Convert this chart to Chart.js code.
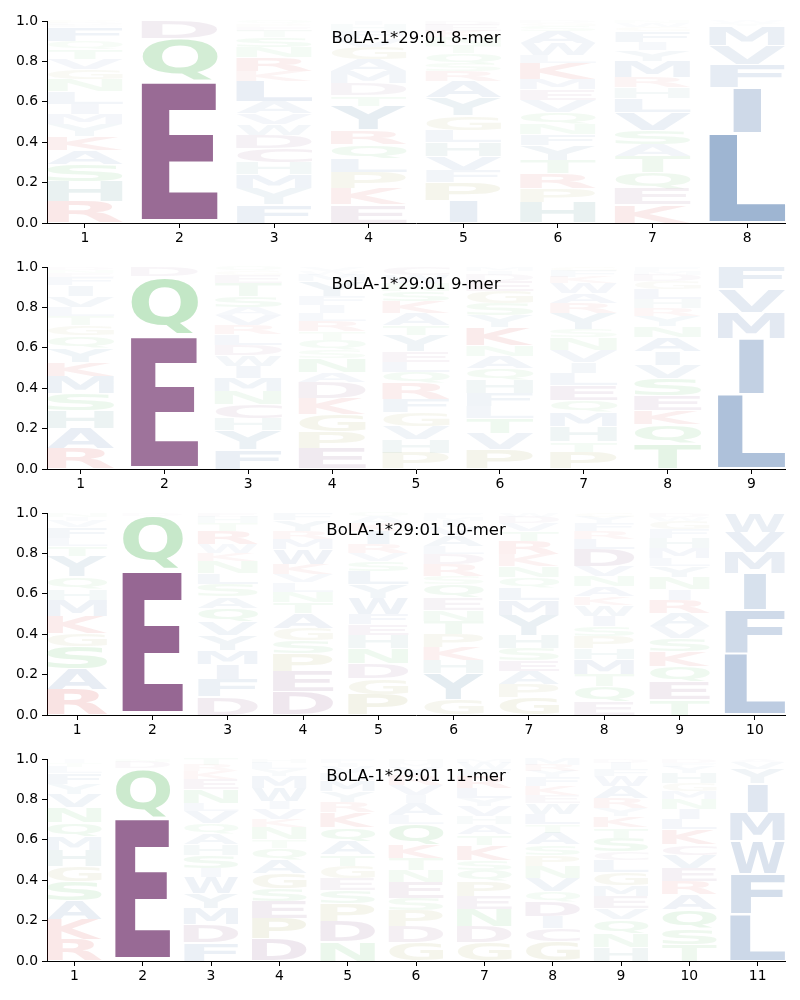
<!DOCTYPE html>
<html>
<head>
<meta charset="utf-8">
<script src="https://cdn.jsdelivr.net/npm/chart.js@4.4.1/dist/chart.umd.min.js"></script>
<style>
  body { margin: 0; background: #fff; }
  canvas { display: block; }
</style>
</head>
<body>
<canvas id="logo8" width="800" height="246"></canvas>
<canvas id="logo9" width="800" height="246"></canvas>
<canvas id="logo10" width="800" height="246"></canvas>
<canvas id="logo11" width="800" height="246"></canvas>
<script>
// Motif logos, one panel per peptide length
const allele = "BoLA-1*29:01";
const yTicks = [0, 0.2, 0.4, 0.6, 0.8, 1.0];

// letters of each position, stacked bottom -> top, with their frequencies
const letters8 = ["RHSAKYMILNGVTQFEDP", "EQD", "FYMHCDWVALKRNSTEPQ", "EKPLQRYTDMAGVFHI",
  "IPFVHLGYARSQTNKED", "HPRTYFNQVEMKLWASGD", "KEQTASVLHRMYIFGWN", "LIFVMYW"];
const heights8 = [
  [.105, .10, .085, .07, .07, .06, .05, .05, .06, .06, .05, .05, .05, .04, .07, .01, .01, .01],
  [.705, .21, .085],
  [.09, .08, .07, .06, .07, .065, .055, .05, .06, .10, .05, .07, .05, .05, .03, .02, .015, .015],
  [.09, .08, .08, .07, .07, .07, .12, .05, .06, .06, .06, .06, .04, .04, .03, .02],
  [.11, .09, .06, .07, .07, .06, .07, .09, .08, .05, .04, .05, .04, .04, .03, .03, .02],
  [.10, .07, .075, .065, .075, .055, .05, .06, .06, .05, .05, .08, .04, .06, .06, .025, .015, .01],
  [.09, .08, .08, .08, .06, .07, .09, .07, .05, .05, .08, .055, .04, .055, .02, .02, .01],
  [.445, .225, .115, .095, .095, .015, .01]
];

const letters9 = ["RAHSMKYQGTLVIFEND", "EQD", "FYHCNMIWDLRVASTEGQ", "EPGKDANSQTRLIFYMWV",
  "PHVGFRQLEYTAKSNWC", "PVTLFHQANKYSGEDIM", "PTHMQELIVNSYRAWKFG", "TQKESVIANYRHLGDMF", "LIMVF"];
const heights9 = [
  [.10, .10, .09, .085, .085, .07, .07, .06, .05, .045, .045, .055, .055, .04, .02, .015, .015],
  [.666, .286, .048],
  [.095, .095, .06, .07, .065, .065, .06, .055, .05, .05, .045, .05, .04, .055, .065, .04, .02, .02],
  [.10, .085, .085, .08, .08, .05, .07, .04, .05, .04, .05, .04, .04, .045, .075, .03, .02, .02],
  [.08, .065, .065, .07, .065, .08, .055, .05, .05, .08, .05, .06, .06, .05, .04, .04, .04],
  [.095, .08, .075, .06, .065, .065, .06, .06, .05, .09, .06, .06, .06, .05, .03, .02, .02],
  [.085, .05, .075, .07, .06, .075, .06, .055, .06, .06, .04, .08, .05, .05, .05, .03, .03, .02],
  [.125, .095, .07, .075, .085, .065, .065, .07, .055, .05, .04, .045, .05, .04, .03, .02, .02],
  [.37, .277, .128, .117, .108]
];

const letters10 = ["RASGKMHQYTLFVIN", "EQD", "DFIMYVQASLNKWRTHE", "DEPSGATNLVKWMRYF",
  "PGDNHEFWYLSVRIKAQ", "GYHKPTNEQSRDLAVIMF", "GPAESHYMLQNKRTVDW", "EQTMHPSIWKANVDLRFYG",
  "TEQKSVARINYLMHFGWD", "LFIMVW"];
const heights10 = [
  [.125, .105, .11, .065, .085, .08, .055, .06, .10, .05, .04, .055, .03, .02, .02],
  [.72, .265, .015],
  [.09, .085, .075, .07, .075, .065, .07, .055, .06, .055, .06, .04, .045, .065, .04, .03, .02],
  [.115, .10, .09, .065, .06, .075, .055, .05, .045, .04, .05, .075, .05, .04, .055, .035],
  [.10, .08, .075, .075, .065, .055, .05, .08, .065, .065, .05, .04, .045, .065, .04, .03, .02],
  [.075, .13, .065, .065, .065, .065, .055, .06, .065, .04, .06, .05, .04, .055, .04, .03, .02, .02],
  [.085, .065, .065, .055, .06, .065, .10, .075, .06, .05, .055, .06, .065, .05, .04, .03, .02],
  [.065, .075, .06, .075, .055, .06, .05, .05, .055, .04, .05, .05, .05, .085, .05, .04, .04, .03, .02],
  [.075, .09, .075, .075, .065, .06, .065, .065, .05, .06, .055, .04, .05, .05, .045, .04, .02, .02],
  [.302, .218, .18, .105, .10, .095]
];

const letters11 = ["RKASGHMQNVYFLTI", "EQDN", "FDMYWISHAQVLNEKRT", "DPESGAQTNKVIWMYLH",
  "NDPSEGTAQKRYMLVIF", "GDPSENTKQLAIVRYMH", "GDNEPQSKTAHVYLRFWM", "GCIDQVNPSATLWEKFYRM",
  "HNQVEMGLCSTKYRAWFID", "TSQAREVCKLINMGHYFD", "LFWMIYVA"];
const heights11 = [
  [.105, .10, .095, .095, .075, .08, .065, .07, .075, .065, .05, .055, .03, .02, .02],
  [.71, .245, .03, .015],
  [.09, .09, .08, .075, .08, .045, .065, .05, .055, .05, .06, .04, .07, .05, .04, .03, .03],
  [.11, .10, .085, .065, .075, .065, .06, .04, .06, .04, .05, .04, .065, .06, .035, .03, .02],
  [.095, .10, .09, .065, .06, .06, .055, .065, .07, .075, .05, .055, .055, .035, .03, .02, .02],
  [.09, .08, .08, .06, .08, .06, .06, .065, .10, .045, .06, .04, .05, .05, .04, .02, .02],
  [.09, .08, .085, .065, .075, .055, .05, .075, .05, .05, .04, .05, .04, .05, .06, .035, .03, .02],
  [.095, .065, .06, .075, .05, .065, .06, .055, .05, .06, .04, .05, .055, .04, .045, .045, .03, .03, .03],
  [.07, .065, .07, .055, .06, .055, .065, .06, .04, .07, .05, .055, .04, .05, .06, .05, .035, .03, .02],
  [.08, .08, .095, .075, .065, .065, .065, .05, .075, .05, .05, .05, .04, .04, .05, .03, .02, .02],
  [.232, .198, .165, .14, .142, .073, .035, .015]
];

// residue colour groups (opacity follows letter height)
const letterColor = {
  A: "#23579a", F: "#23579a", I: "#23579a", L: "#23579a", M: "#23579a", V: "#23579a", W: "#23579a",
  Y: "#2f6f95",
  D: "#6e2d69", E: "#6e2d69", C: "#6e2d69",
  K: "#cc2222", R: "#cc2222",
  H: "#2a7878",
  N: "#2daa37", Q: "#2daa37", S: "#2daa37", T: "#2daa37",
  G: "#8c8c28", P: "#8c8c28"
};

const GLYPH_FONT = 'bold 100px "DejaVu Sans"';
const COL_WIDTH = 0.8;
const VPAD = 0.025;

function makeLogoPlugin(letters, heights, title) {
  return {
    id: "logo",
    afterDatasetsDraw(chart) {
      const ctx = chart.ctx;
      const xs = chart.scales.x, ys = chart.scales.y;
      ctx.save();
      ctx.font = GLYPH_FONT;
      ctx.textAlign = "left";
      ctx.textBaseline = "alphabetic";
      const metrics = {};
      const measure = ch => {
        if (!metrics[ch]) {
          const m = ctx.measureText(ch);
          metrics[ch] = { l: m.actualBoundingBoxLeft, r: m.actualBoundingBoxRight,
                          a: m.actualBoundingBoxAscent, d: m.actualBoundingBoxDescent };
        }
        return metrics[ch];
      };
      const e = measure("E");
      const eW = e.l + e.r;

      letters.forEach((col, i) => {
        const pos = i + 1;
        const x0 = xs.getPixelForValue(pos - COL_WIDTH / 2);
        const x1 = xs.getPixelForValue(pos + COL_WIDTH / 2);
        let base = 0;
        [...col].forEach((ch, j) => {
          const h = heights[i][j];
          const yb = ys.getPixelForValue(base);
          const yt = ys.getPixelForValue(base + h);
          base += h;
          const bh = yb - yt;
          const pad = bh * VPAD;
          const th = bh - 2 * pad;
          if (th < 0.5) return;
          const m = measure(ch);
          const gw = m.l + m.r, gh = m.a + m.d;
          const sx = (x1 - x0) / Math.max(gw, eW);
          const sy = th / gh;
          ctx.save();
          ctx.translate((x0 + x1) / 2, yb - pad);
          ctx.scale(sx, sy);
          ctx.globalAlpha = Math.min(1, h);
          ctx.fillStyle = letterColor[ch] || "#888";
          ctx.fillText(ch, -(m.r - m.l) / 2, -m.d);
          ctx.restore();
        });
      });

      // title inside the axes
      const area = chart.chartArea;
      ctx.globalAlpha = 1;
      ctx.font = '16.5px "DejaVu Sans"';
      ctx.fillStyle = "#000";
      ctx.textAlign = "center";
      ctx.fillText(title, (area.left + area.right) / 2, area.top + 22);
      ctx.restore();
    }
  };
}

function drawLogo(canvasId, len, letters, heights) {
  const positions = letters.map((_, i) => i + 1);
  const tickFont = { family: "DejaVu Sans", size: 13.9 };
  new Chart(document.getElementById(canvasId), {
    type: "scatter",
    data: { datasets: [{ data: [], pointRadius: 0 }] },
    options: {
      responsive: false,
      animation: false,
      devicePixelRatio: 1,
      layout: { padding: { top: 21, right: 15, left: 0, bottom: 0 } },
      plugins: { legend: { display: false }, tooltip: { enabled: false } },
      scales: {
        x: {
          type: "linear",
          min: 0.6,
          max: len + 0.4,
          afterBuildTicks: s => { s.ticks = positions.map(v => ({ value: v })); },
          afterFit: s => { s.height = 23; },
          ticks: { color: "#000", font: tickFont, padding: 2, callback: v => String(v) },
          grid: { drawOnChartArea: false, drawTicks: true, tickLength: 5, color: "#000" },
          border: { display: true, color: "#000", width: 1 }
        },
        y: {
          min: 0,
          max: 1,
          afterBuildTicks: s => { s.ticks = yTicks.map(v => ({ value: v })); },
          afterFit: s => { s.width = 47; },
          ticks: { color: "#000", font: tickFont, padding: 4, callback: v => v.toFixed(1) },
          grid: { drawOnChartArea: false, drawTicks: true, tickLength: 5, color: "#000" },
          border: { display: true, color: "#000", width: 1 }
        }
      }
    },
    plugins: [makeLogoPlugin(letters, heights, allele + " " + len + "-mer")]
  });
}

drawLogo("logo8", 8, letters8, heights8);
drawLogo("logo9", 9, letters9, heights9);
drawLogo("logo10", 10, letters10, heights10);
drawLogo("logo11", 11, letters11, heights11);
</script>
</body>
</html>
